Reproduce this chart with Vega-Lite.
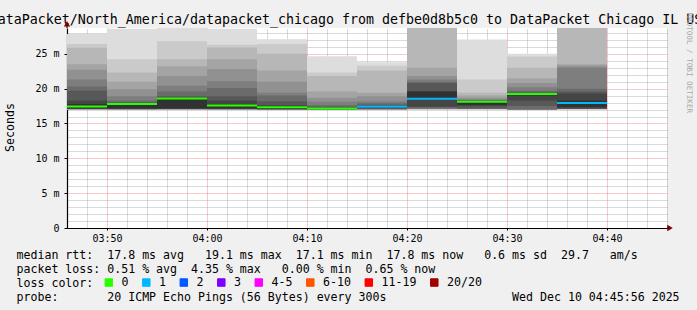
{
  "$schema": "https://vega.github.io/schema/vega-lite/v6.json",
  "width": 600,
  "height": 200,
  "autosize": {"type": "none"},
  "padding": {"left": 67, "top": 28, "right": 30, "bottom": 82},
  "background": "#f0f0f0",
  "config": {
    "view": {"fill": "#ffffff", "stroke": null},
    "font": "DejaVu Sans Mono",
    "axis": {"labelFont": "DejaVu Sans Mono", "titleFont": "DejaVu Sans Mono", "titleFontWeight": "normal", "titleColor": "#000000", "labelColor": "#000000", "zindex": 1}
  },
  "datasets": {
    "smoke": [
      {"s":"2025-12-10T03:45:00Z","e":"2025-12-10T03:50:00Z","k":1,"lo":16.95,"hi":27.85},
      {"s":"2025-12-10T03:45:00Z","e":"2025-12-10T03:50:00Z","k":2,"lo":16.97,"hi":26.4},
      {"s":"2025-12-10T03:45:00Z","e":"2025-12-10T03:50:00Z","k":3,"lo":17.0,"hi":25.85},
      {"s":"2025-12-10T03:45:00Z","e":"2025-12-10T03:50:00Z","k":4,"lo":17.02,"hi":23.5},
      {"s":"2025-12-10T03:45:00Z","e":"2025-12-10T03:50:00Z","k":5,"lo":17.04,"hi":22.7},
      {"s":"2025-12-10T03:45:00Z","e":"2025-12-10T03:50:00Z","k":6,"lo":17.06,"hi":21.3},
      {"s":"2025-12-10T03:45:00Z","e":"2025-12-10T03:50:00Z","k":7,"lo":17.08,"hi":20.3},
      {"s":"2025-12-10T03:45:00Z","e":"2025-12-10T03:50:00Z","k":8,"lo":17.1,"hi":19.7},
      {"s":"2025-12-10T03:45:00Z","e":"2025-12-10T03:50:00Z","k":9,"lo":17.12,"hi":18.3},
      {"s":"2025-12-10T03:45:00Z","e":"2025-12-10T03:50:00Z","k":10,"lo":17.15,"hi":17.8},

      {"s":"2025-12-10T03:50:00Z","e":"2025-12-10T03:55:00Z","k":1,"lo":16.95,"hi":28.6},
      {"s":"2025-12-10T03:50:00Z","e":"2025-12-10T03:55:00Z","k":2,"lo":16.97,"hi":24.2},
      {"s":"2025-12-10T03:50:00Z","e":"2025-12-10T03:55:00Z","k":3,"lo":16.99,"hi":22.3},
      {"s":"2025-12-10T03:50:00Z","e":"2025-12-10T03:55:00Z","k":4,"lo":17.0,"hi":21.0},
      {"s":"2025-12-10T03:50:00Z","e":"2025-12-10T03:55:00Z","k":5,"lo":17.02,"hi":19.9},
      {"s":"2025-12-10T03:50:00Z","e":"2025-12-10T03:55:00Z","k":6,"lo":17.04,"hi":18.9},
      {"s":"2025-12-10T03:50:00Z","e":"2025-12-10T03:55:00Z","k":7,"lo":17.06,"hi":18.3},
      {"s":"2025-12-10T03:50:00Z","e":"2025-12-10T03:55:00Z","k":8,"lo":17.08,"hi":18.0},
      {"s":"2025-12-10T03:50:00Z","e":"2025-12-10T03:55:00Z","k":9,"lo":17.1,"hi":17.95},
      {"s":"2025-12-10T03:50:00Z","e":"2025-12-10T03:55:00Z","k":10,"lo":17.15,"hi":17.9},

      {"s":"2025-12-10T03:55:00Z","e":"2025-12-10T04:00:00Z","k":1,"lo":16.95,"hi":28.75},
      {"s":"2025-12-10T03:55:00Z","e":"2025-12-10T04:00:00Z","k":2,"lo":16.98,"hi":26.8},
      {"s":"2025-12-10T03:55:00Z","e":"2025-12-10T04:00:00Z","k":3,"lo":17.0,"hi":24.2},
      {"s":"2025-12-10T03:55:00Z","e":"2025-12-10T04:00:00Z","k":4,"lo":17.02,"hi":23.2},
      {"s":"2025-12-10T03:55:00Z","e":"2025-12-10T04:00:00Z","k":5,"lo":17.04,"hi":21.8},
      {"s":"2025-12-10T03:55:00Z","e":"2025-12-10T04:00:00Z","k":6,"lo":17.06,"hi":20.4},
      {"s":"2025-12-10T03:55:00Z","e":"2025-12-10T04:00:00Z","k":7,"lo":17.08,"hi":19.6},
      {"s":"2025-12-10T03:55:00Z","e":"2025-12-10T04:00:00Z","k":8,"lo":17.1,"hi":18.9},
      {"s":"2025-12-10T03:55:00Z","e":"2025-12-10T04:00:00Z","k":9,"lo":17.12,"hi":18.75},
      {"s":"2025-12-10T03:55:00Z","e":"2025-12-10T04:00:00Z","k":10,"lo":17.15,"hi":18.7},

      {"s":"2025-12-10T04:00:00Z","e":"2025-12-10T04:05:00Z","k":1,"lo":16.95,"hi":28.6},
      {"s":"2025-12-10T04:00:00Z","e":"2025-12-10T04:05:00Z","k":2,"lo":16.97,"hi":26.3},
      {"s":"2025-12-10T04:00:00Z","e":"2025-12-10T04:05:00Z","k":3,"lo":16.99,"hi":25.9},
      {"s":"2025-12-10T04:00:00Z","e":"2025-12-10T04:05:00Z","k":4,"lo":17.0,"hi":24.2},
      {"s":"2025-12-10T04:00:00Z","e":"2025-12-10T04:05:00Z","k":5,"lo":17.02,"hi":22.8},
      {"s":"2025-12-10T04:00:00Z","e":"2025-12-10T04:05:00Z","k":6,"lo":17.04,"hi":21.06},
      {"s":"2025-12-10T04:00:00Z","e":"2025-12-10T04:05:00Z","k":7,"lo":17.06,"hi":20.1},
      {"s":"2025-12-10T04:00:00Z","e":"2025-12-10T04:05:00Z","k":8,"lo":17.08,"hi":18.9},
      {"s":"2025-12-10T04:00:00Z","e":"2025-12-10T04:05:00Z","k":9,"lo":17.1,"hi":18.3},
      {"s":"2025-12-10T04:00:00Z","e":"2025-12-10T04:05:00Z","k":10,"lo":17.15,"hi":17.75},

      {"s":"2025-12-10T04:05:00Z","e":"2025-12-10T04:10:00Z","k":1,"lo":16.9,"hi":27.1},
      {"s":"2025-12-10T04:05:00Z","e":"2025-12-10T04:10:00Z","k":2,"lo":16.93,"hi":26.4},
      {"s":"2025-12-10T04:05:00Z","e":"2025-12-10T04:10:00Z","k":3,"lo":16.95,"hi":25.0},
      {"s":"2025-12-10T04:05:00Z","e":"2025-12-10T04:10:00Z","k":4,"lo":16.97,"hi":22.6},
      {"s":"2025-12-10T04:05:00Z","e":"2025-12-10T04:10:00Z","k":5,"lo":16.99,"hi":21.0},
      {"s":"2025-12-10T04:05:00Z","e":"2025-12-10T04:10:00Z","k":6,"lo":17.0,"hi":19.4},
      {"s":"2025-12-10T04:05:00Z","e":"2025-12-10T04:10:00Z","k":7,"lo":17.02,"hi":19.0},
      {"s":"2025-12-10T04:05:00Z","e":"2025-12-10T04:10:00Z","k":8,"lo":17.04,"hi":18.2},
      {"s":"2025-12-10T04:05:00Z","e":"2025-12-10T04:10:00Z","k":9,"lo":17.06,"hi":17.6},
      {"s":"2025-12-10T04:05:00Z","e":"2025-12-10T04:10:00Z","k":10,"lo":17.1,"hi":17.45},

      {"s":"2025-12-10T04:10:00Z","e":"2025-12-10T04:15:00Z","k":1,"lo":16.9,"hi":24.65},
      {"s":"2025-12-10T04:10:00Z","e":"2025-12-10T04:15:00Z","k":2,"lo":16.92,"hi":22.3},
      {"s":"2025-12-10T04:10:00Z","e":"2025-12-10T04:15:00Z","k":3,"lo":16.94,"hi":21.8},
      {"s":"2025-12-10T04:10:00Z","e":"2025-12-10T04:15:00Z","k":4,"lo":16.96,"hi":19.6},
      {"s":"2025-12-10T04:10:00Z","e":"2025-12-10T04:15:00Z","k":5,"lo":16.98,"hi":18.7},
      {"s":"2025-12-10T04:10:00Z","e":"2025-12-10T04:15:00Z","k":6,"lo":17.0,"hi":18.1},
      {"s":"2025-12-10T04:10:00Z","e":"2025-12-10T04:15:00Z","k":7,"lo":17.02,"hi":17.6},
      {"s":"2025-12-10T04:10:00Z","e":"2025-12-10T04:15:00Z","k":8,"lo":17.04,"hi":17.4},
      {"s":"2025-12-10T04:10:00Z","e":"2025-12-10T04:15:00Z","k":9,"lo":17.06,"hi":17.3},
      {"s":"2025-12-10T04:10:00Z","e":"2025-12-10T04:15:00Z","k":10,"lo":17.08,"hi":17.25},

      {"s":"2025-12-10T04:15:00Z","e":"2025-12-10T04:20:00Z","k":1,"lo":16.95,"hi":23.8},
      {"s":"2025-12-10T04:15:00Z","e":"2025-12-10T04:20:00Z","k":2,"lo":16.97,"hi":23.3},
      {"s":"2025-12-10T04:15:00Z","e":"2025-12-10T04:20:00Z","k":3,"lo":16.99,"hi":22.6},
      {"s":"2025-12-10T04:15:00Z","e":"2025-12-10T04:20:00Z","k":4,"lo":17.0,"hi":19.4},
      {"s":"2025-12-10T04:15:00Z","e":"2025-12-10T04:20:00Z","k":5,"lo":17.02,"hi":18.9},
      {"s":"2025-12-10T04:15:00Z","e":"2025-12-10T04:20:00Z","k":6,"lo":17.04,"hi":18.2},
      {"s":"2025-12-10T04:15:00Z","e":"2025-12-10T04:20:00Z","k":7,"lo":17.06,"hi":17.9},
      {"s":"2025-12-10T04:15:00Z","e":"2025-12-10T04:20:00Z","k":8,"lo":17.08,"hi":17.7},
      {"s":"2025-12-10T04:15:00Z","e":"2025-12-10T04:20:00Z","k":9,"lo":17.35,"hi":17.6},
      {"s":"2025-12-10T04:15:00Z","e":"2025-12-10T04:20:00Z","k":10,"lo":17.4,"hi":17.55},

      {"s":"2025-12-10T04:20:00Z","e":"2025-12-10T04:25:00Z","k":1,"lo":17.0,"hi":28.7},
      {"s":"2025-12-10T04:20:00Z","e":"2025-12-10T04:25:00Z","k":2,"lo":17.02,"hi":28.7},
      {"s":"2025-12-10T04:20:00Z","e":"2025-12-10T04:25:00Z","k":3,"lo":17.04,"hi":28.7},
      {"s":"2025-12-10T04:20:00Z","e":"2025-12-10T04:25:00Z","k":4,"lo":17.06,"hi":23.0},
      {"s":"2025-12-10T04:20:00Z","e":"2025-12-10T04:25:00Z","k":5,"lo":17.08,"hi":21.8},
      {"s":"2025-12-10T04:20:00Z","e":"2025-12-10T04:25:00Z","k":6,"lo":17.1,"hi":21.3},
      {"s":"2025-12-10T04:20:00Z","e":"2025-12-10T04:25:00Z","k":7,"lo":17.1,"hi":21.0},
      {"s":"2025-12-10T04:20:00Z","e":"2025-12-10T04:25:00Z","k":8,"lo":17.35,"hi":20.8},
      {"s":"2025-12-10T04:20:00Z","e":"2025-12-10T04:25:00Z","k":9,"lo":17.4,"hi":19.65},
      {"s":"2025-12-10T04:20:00Z","e":"2025-12-10T04:25:00Z","k":10,"lo":18.55,"hi":19.6},

      {"s":"2025-12-10T04:25:00Z","e":"2025-12-10T04:30:00Z","k":1,"lo":17.0,"hi":27.05},
      {"s":"2025-12-10T04:25:00Z","e":"2025-12-10T04:30:00Z","k":2,"lo":17.02,"hi":21.3},
      {"s":"2025-12-10T04:25:00Z","e":"2025-12-10T04:30:00Z","k":3,"lo":17.04,"hi":19.4},
      {"s":"2025-12-10T04:25:00Z","e":"2025-12-10T04:30:00Z","k":4,"lo":17.06,"hi":19.0},
      {"s":"2025-12-10T04:25:00Z","e":"2025-12-10T04:30:00Z","k":5,"lo":17.08,"hi":18.7},
      {"s":"2025-12-10T04:25:00Z","e":"2025-12-10T04:30:00Z","k":6,"lo":17.1,"hi":18.45},
      {"s":"2025-12-10T04:25:00Z","e":"2025-12-10T04:30:00Z","k":7,"lo":17.12,"hi":18.35},
      {"s":"2025-12-10T04:25:00Z","e":"2025-12-10T04:30:00Z","k":8,"lo":17.15,"hi":18.28},
      {"s":"2025-12-10T04:25:00Z","e":"2025-12-10T04:30:00Z","k":9,"lo":17.55,"hi":18.22},
      {"s":"2025-12-10T04:25:00Z","e":"2025-12-10T04:30:00Z","k":10,"lo":17.6,"hi":18.18},

      {"s":"2025-12-10T04:30:00Z","e":"2025-12-10T04:35:00Z","k":1,"lo":16.9,"hi":25.0},
      {"s":"2025-12-10T04:30:00Z","e":"2025-12-10T04:35:00Z","k":2,"lo":16.92,"hi":24.6},
      {"s":"2025-12-10T04:30:00Z","e":"2025-12-10T04:35:00Z","k":3,"lo":16.94,"hi":23.0},
      {"s":"2025-12-10T04:30:00Z","e":"2025-12-10T04:35:00Z","k":4,"lo":16.96,"hi":21.5},
      {"s":"2025-12-10T04:30:00Z","e":"2025-12-10T04:35:00Z","k":5,"lo":16.98,"hi":20.8},
      {"s":"2025-12-10T04:30:00Z","e":"2025-12-10T04:35:00Z","k":6,"lo":17.0,"hi":20.2},
      {"s":"2025-12-10T04:30:00Z","e":"2025-12-10T04:35:00Z","k":7,"lo":17.0,"hi":19.7},
      {"s":"2025-12-10T04:30:00Z","e":"2025-12-10T04:35:00Z","k":8,"lo":17.5,"hi":19.45},
      {"s":"2025-12-10T04:30:00Z","e":"2025-12-10T04:35:00Z","k":9,"lo":18.3,"hi":19.35},
      {"s":"2025-12-10T04:30:00Z","e":"2025-12-10T04:35:00Z","k":10,"lo":19.0,"hi":19.3},

      {"s":"2025-12-10T04:35:00Z","e":"2025-12-10T04:40:00Z","k":1,"lo":17.0,"hi":28.7},
      {"s":"2025-12-10T04:35:00Z","e":"2025-12-10T04:40:00Z","k":2,"lo":17.02,"hi":28.7},
      {"s":"2025-12-10T04:35:00Z","e":"2025-12-10T04:40:00Z","k":3,"lo":17.04,"hi":28.7},
      {"s":"2025-12-10T04:35:00Z","e":"2025-12-10T04:40:00Z","k":4,"lo":17.06,"hi":23.5},
      {"s":"2025-12-10T04:35:00Z","e":"2025-12-10T04:40:00Z","k":5,"lo":17.08,"hi":23.3},
      {"s":"2025-12-10T04:35:00Z","e":"2025-12-10T04:40:00Z","k":6,"lo":17.1,"hi":23.0},
      {"s":"2025-12-10T04:35:00Z","e":"2025-12-10T04:40:00Z","k":7,"lo":17.1,"hi":20.0},
      {"s":"2025-12-10T04:35:00Z","e":"2025-12-10T04:40:00Z","k":8,"lo":17.12,"hi":19.6},
      {"s":"2025-12-10T04:35:00Z","e":"2025-12-10T04:40:00Z","k":9,"lo":17.15,"hi":19.3},
      {"s":"2025-12-10T04:35:00Z","e":"2025-12-10T04:40:00Z","k":10,"lo":17.35,"hi":18.3}
    ],
    "median": [
      {"s":"2025-12-10T03:45:00Z","e":"2025-12-10T03:50:00Z","m":17.45,"loss":"0"},
      {"s":"2025-12-10T03:50:00Z","e":"2025-12-10T03:55:00Z","m":17.8,"loss":"0"},
      {"s":"2025-12-10T03:55:00Z","e":"2025-12-10T04:00:00Z","m":18.6,"loss":"0"},
      {"s":"2025-12-10T04:00:00Z","e":"2025-12-10T04:05:00Z","m":17.57,"loss":"0"},
      {"s":"2025-12-10T04:05:00Z","e":"2025-12-10T04:10:00Z","m":17.33,"loss":"0"},
      {"s":"2025-12-10T04:10:00Z","e":"2025-12-10T04:15:00Z","m":17.15,"loss":"0"},
      {"s":"2025-12-10T04:15:00Z","e":"2025-12-10T04:20:00Z","m":17.45,"loss":"1"},
      {"s":"2025-12-10T04:20:00Z","e":"2025-12-10T04:25:00Z","m":18.53,"loss":"1"},
      {"s":"2025-12-10T04:25:00Z","e":"2025-12-10T04:30:00Z","m":18.12,"loss":"0"},
      {"s":"2025-12-10T04:30:00Z","e":"2025-12-10T04:35:00Z","m":19.22,"loss":"0"},
      {"s":"2025-12-10T04:35:00Z","e":"2025-12-10T04:40:00Z","m":17.92,"loss":"1"}
    ]
  },
  "resolve": {"axis": {"x": "independent", "y": "independent"}},
  "layer": [
    {
      "data": {"name": "smoke"},
      "mark": {"type": "rect", "clip": true, "strokeWidth": 0},
      "encoding": {
        "x": {
          "field": "s", "type": "temporal",
          "scale": {"type": "utc", "domain": [1765338360000, 1765341960000]},
          "axis": {
            "orient": "top", "grid": true, "gridColor": "#8f8f8f", "gridOpacity": 0.65, "gridDash": [1, 1],
            "domain": false, "ticks": false, "labels": false,
            "values": [1765338360000, 1765338480000, 1765338720000, 1765338840000, 1765338960000, 1765339080000, 1765339320000, 1765339440000, 1765339560000, 1765339680000, 1765339920000, 1765340040000, 1765340160000, 1765340280000, 1765340520000, 1765340640000, 1765340760000, 1765340880000, 1765341120000, 1765341240000, 1765341360000, 1765341480000, 1765341720000, 1765341840000, 1765341960000],
            "title": "DataPacket/North_America/datapacket_chicago from defbe0d8b5c0 to DataPacket Chicago IL US",
            "titleX": 278.5, "titleY": -4.5, "titleAlign": "center", "titleBaseline": "alphabetic",
            "titleFontSize": 13.3, "titlePadding": 0
          }
        },
        "x2": {"field": "e"},
        "y": {
          "field": "lo", "type": "quantitative",
          "scale": {"domain": [0, 28.7], "nice": false, "zero": true},
          "axis": {
            "orient": "right", "grid": true, "gridColor": "#8f8f8f", "gridOpacity": 0.65, "gridDash": [1, 1],
            "domain": false, "ticks": false, "labels": false,
            "values": [1, 2, 3, 4, 6, 7, 8, 9, 11, 12, 13, 14, 16, 17, 18, 19, 21, 22, 23, 24, 26, 27, 28],
            "title": "RRDTOOL / TOBI OETIKER", "titleAngle": 90, "titleX": 21, "titleY": -16,
            "titleAlign": "left", "titleBaseline": "middle", "titleFontSize": 7.6, "titleColor": "#a8a8a8"
          }
        },
        "y2": {"field": "hi"},
        "fill": {
          "field": "k", "type": "ordinal",
          "scale": {"domain": [1, 2, 3, 4, 5, 6, 7, 8, 9, 10],
                    "range": ["#dddddd", "#cacaca", "#b7b7b7", "#a4a4a4", "#919191", "#7e7e7e", "#6b6b6b", "#585858", "#454545", "#323232"]},
          "legend": null
        }
      }
    },
    {
      "data": {"name": "median"},
      "mark": {"type": "rule", "clip": true, "strokeWidth": 2},
      "encoding": {
        "x": {
          "field": "s", "type": "temporal",
          "axis": {
            "orient": "bottom", "grid": true, "gridColor": "#de5050", "gridOpacity": 0.6, "gridDash": [1, 1],
            "domain": true, "domainColor": "#000000", "domainWidth": 1.2,
            "ticks": true, "tickColor": "#000000", "tickSize": 2,
            "values": [1765338600000, 1765339200000, 1765339800000, 1765340400000, 1765341000000, 1765341600000],
            "format": "%H:%M",
            "labelFontSize": 10, "labelPadding": 3, "labelFlush": false, "labelOverlap": false,
            "title": [
              "median rtt:\u00a0\u00a017.8 ms avg\u00a0\u00a0\u00a019.1 ms max\u00a0\u00a017.1 ms min\u00a0\u00a017.8 ms now\u00a0\u00a0\u00a00.6 ms sd\u00a0\u00a029.7\u00a0\u00a0\u00a0am/s",
              "packet loss: 0.51 % avg\u00a0\u00a04.35 % max\u00a0\u00a0\u00a00.00 % min\u00a0\u00a00.65 % now",
              "loss color:",
              "probe:\u00a0\u00a0\u00a0\u00a0\u00a0\u00a0\u00a020 ICMP Echo Pings (56 Bytes) every 300s\u00a0\u00a0\u00a0\u00a0\u00a0\u00a0\u00a0\u00a0\u00a0\u00a0\u00a0\u00a0\u00a0\u00a0\u00a0\u00a0\u00a0\u00a0Wed Dec 10 04:45:56 2025"
            ],
            "titleX": -51, "titleY": 30, "titleAlign": "left", "titleBaseline": "alphabetic",
            "titleFontSize": 11.6, "titleLineHeight": 14
          }
        },
        "x2": {"field": "e"},
        "y": {
          "field": "m", "type": "quantitative",
          "axis": {
            "orient": "left", "grid": true, "gridColor": "#de5050", "gridOpacity": 0.6, "gridDash": [1, 1],
            "domain": true, "domainColor": "#000000", "domainWidth": 1.2,
            "ticks": true, "tickColor": "#000000", "tickSize": 3,
            "values": [0, 5, 10, 15, 20, 25],
            "labelExpr": "datum.value == 0 ? '0' : datum.value + ' m'",
            "labelFontSize": 10, "labelPadding": 5,
            "title": "Seconds", "titleX": -57, "titleY": 99, "titleAngle": -90,
            "titleAlign": "center", "titleBaseline": "middle", "titleFontSize": 11.6
          }
        },
        "stroke": {
          "field": "loss", "type": "nominal",
          "scale": {"domain": ["0", "1", "2", "3", "4-5", "6-10", "11-19", "20/20"],
                    "range": ["#26ff00", "#00b8ff", "#0059ff", "#7e00ff", "#ff00ff", "#ff5500", "#ff0000", "#a10000"]},
          "legend": {
            "orient": "none", "legendX": 36, "legendY": 248.5, "direction": "horizontal", "columns": 8,
            "title": null,
            "labelFont": "DejaVu Sans Mono", "labelFontSize": 11.6, "labelColor": "#000000",
            "labelOffset": 7, "columnPadding": 11.5, "padding": 0,
            "symbolType": "square", "symbolSize": 56, "symbolStrokeWidth": 1, "symbolStrokeColor": "#000000",
            "encode": {
              "symbols": {
                "update": {
                  "fill": {"scale": "stroke", "field": "value"},
                  "stroke": {"value": "#000000"},
                  "strokeWidth": {"value": 1},
                  "opacity": {"value": 1},
                  "fillOpacity": {"value": 1}
                }
              }
            }
          }
        }
      }
    },
    {
      "data": {"values": [{}]},
      "mark": {"type": "rule", "color": "#000000", "strokeWidth": 1.2, "clip": false},
      "encoding": {
        "x": {"datum": 1765338360000, "type": "temporal", "axis": null},
        "y": {"datum": 28.7, "type": "quantitative", "axis": null},
        "y2": {"datum": 29.2}
      }
    },
    {
      "data": {"values": [{}]},
      "mark": {"type": "rule", "color": "#000000", "strokeWidth": 1.2, "clip": false},
      "encoding": {
        "x": {"datum": 1765341960000, "type": "temporal", "axis": null},
        "x2": {"datum": 1765341980000},
        "y": {"datum": 0, "type": "quantitative", "axis": null}
      }
    },
    {
      "data": {"values": [{}]},
      "mark": {"type": "point", "shape": "triangle-up", "filled": true, "size": 40, "color": "#7f0000", "opacity": 1, "clip": false},
      "encoding": {
        "x": {"datum": 1765338360000, "type": "temporal", "axis": null},
        "y": {"datum": 29.3, "type": "quantitative", "axis": null}
      }
    },
    {
      "data": {"values": [{}]},
      "mark": {"type": "point", "shape": "triangle-right", "filled": true, "size": 40, "color": "#7f0000", "opacity": 1, "clip": false},
      "encoding": {
        "x": {"datum": 1765341978000, "type": "temporal", "axis": null},
        "y": {"datum": 0, "type": "quantitative", "axis": null}
      }
    }
  ]
}
